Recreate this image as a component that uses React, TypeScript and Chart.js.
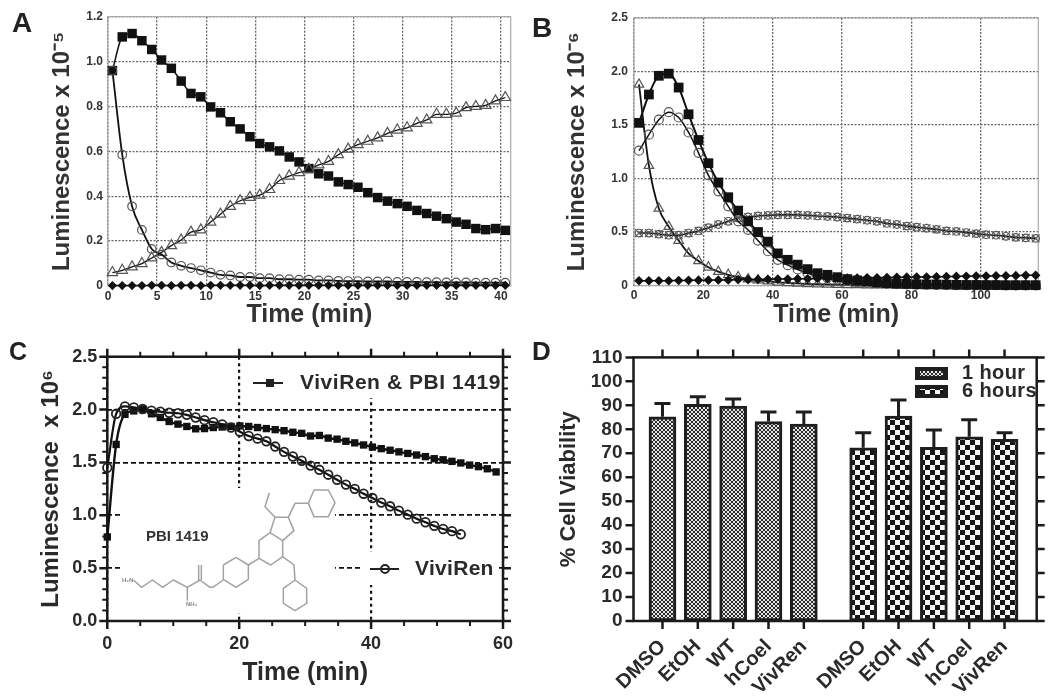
import React, { useEffect, useRef } from "react";
import { Chart, registerables } from "chart.js";

Chart.register(...registerables);

const FONT = '"Liberation Sans", Arial, sans-serif';

// ---------- Panel A ----------
const timesA = [0.45,1.45,2.45,3.45,4.45,5.45,6.45,7.45,8.45,9.45,10.45,11.45,12.45,13.45,14.45,15.45,16.45,17.45,18.45,19.45,20.45,21.45,22.45,23.45,24.45,25.45,26.45,27.45,28.45,29.45,30.45,31.45,32.45,33.45,34.45,35.45,36.45,37.45,38.45,39.45,40.45];
const squaresA = [.96,1.11,1.125,1.093,1.054,1.007,.97,.913,.858,.843,.798,.772,.732,.70,.665,.635,.62,.602,.575,.553,.523,.50,.49,.464,.452,.44,.416,.394,.378,.367,.355,.337,.323,.311,.30,.285,.275,.256,.251,.256,.248];
const trianglesA = [.06,.07,.085,.10,.125,.15,.18,.205,.24,.25,.285,.32,.355,.38,.395,.405,.43,.47,.49,.505,.52,.54,.555,.585,.61,.63,.645,.66,.68,.695,.705,.725,.74,.765,.765,.77,.795,.80,.805,.825,.84];
const circlesA = [.96,.585,.355,.25,.165,.14,.105,.09,.08,.07,.06,.05,.047,.04,.04,.035,.035,.03,.03,.028,.028,.025,.025,.023,.022,.022,.02,.02,.02,.018,.018,.018,.017,.017,.016,.016,.016,.015,.015,.015,.015];
const diamondsA = [.002,.002,.002,.002,.003,.003,.002,.003,.003,.002,.003,.003,.003,.003,.003,.002,.003,.003,.003,.003,.003,.003,.003,.003,.003,.003,.003,.003,.003,.003,.003,.003,.003,.003,.003,.003,.003,.003,.003,.003,.003];
const xTicksA = [0,5,10,15,20,25,30,35,40];
const xLabelsA = ["0","5","10","15","20","25","30","35","40"];
const yTicksA = [0,.2,.4,.6,.8,1,1.2];
const yLabelsA = ["0","0.2","0.4","0.6","0.8","1.0","1.2"];

// ---------- Panel B ----------
const timesB = [1.44,4.3,7.16,10.02,12.88,15.74,18.6,21.46,24.32,27.18,30.04,32.9,35.76,38.62,41.48,44.34,47.2,50.06,52.92,55.78,58.64,61.5,64.36,67.22,70.08,72.94,75.8,78.66,81.52,84.38,87.24,90.1,92.96,95.82,98.68,101.54,104.4,107.26,110.12,112.98,115.84];
const squaresB = [1.52,1.785,1.96,1.98,1.85,1.60,1.36,1.143,.963,.825,.70,.60,.50,.41,.30,.24,.195,.153,.115,.10,.078,.06,.047,.037,.028,.022,.018,.015,.012,.01,.01,.008,.006,.005,.005,.004,.004,.003,.003,.003,.003];
const circlesB = [1.26,1.41,1.55,1.62,1.57,1.43,1.24,1.03,.88,.74,.60,.52,.42,.32,.24,.19,.15,.115,.09,.07,.055,.04,.03,.025,.02,.015,.012,.01,.008,.007,.006,.005,.004,.004,.003,.003,.003,.002,.002,.002,.002];
const trianglesB = [1.88,1.12,.72,.55,.42,.30,.23,.17,.13,.10,.08,.06,.05,.04,.03,.025,.02,.015,.012,.01,.008,.006,.005,.004,.003,.003,.002,.002,.002,.001,.001,.001,.001,.001,.001,.001,.001,.001,.001,.001,.001];
const ringsB = [.49,.49,.48,.47,.47,.49,.51,.54,.57,.60,.63,.64,.65,.655,.66,.66,.66,.655,.65,.645,.64,.63,.62,.61,.60,.58,.57,.555,.545,.535,.525,.51,.505,.495,.485,.475,.47,.46,.45,.445,.44];
const diamondsB = [.045,.045,.045,.045,.047,.048,.05,.05,.052,.052,.055,.055,.057,.058,.06,.06,.062,.063,.065,.066,.068,.07,.07,.072,.073,.075,.076,.078,.08,.08,.082,.083,.085,.086,.088,.088,.09,.09,.092,.095,.095];
const xTicksB = [0,20,40,60,80,100];
const xLabelsB = ["0","20","40","60","80","100"];
const yTicksB = [0,.5,1,1.5,2,2.5];
const yLabelsB = ["0","0.5","1.0","1.5","2.0","2.5"];

// ---------- Panel C ----------
const timesC = [0,1.34,2.68,4.02,5.36,6.7,8.04,9.38,10.72,12.06,13.4,14.74,16.08,17.42,18.76,20.1,21.44,22.78,24.12,25.46,26.8,28.14,29.48,30.82,32.16,33.5,34.84,36.18,37.52,38.86,40.2,41.54,42.88,44.22,45.56,46.9,48.24,49.58,50.92,52.26,53.6,54.94,56.28,57.62,58.96];
const pbi1419C = [.795,1.67,1.955,1.987,2.0,1.96,1.925,1.887,1.862,1.84,1.818,1.82,1.83,1.835,1.84,1.845,1.84,1.83,1.82,1.81,1.80,1.785,1.775,1.75,1.755,1.73,1.72,1.70,1.685,1.665,1.645,1.63,1.615,1.60,1.585,1.57,1.555,1.535,1.525,1.51,1.495,1.475,1.46,1.44,1.41];
const viviRenC = [1.45,1.96,2.03,2.02,2.005,1.99,1.98,1.97,1.965,1.95,1.925,1.90,1.88,1.86,1.83,1.79,1.75,1.725,1.70,1.65,1.60,1.556,1.516,1.47,1.43,1.384,1.336,1.29,1.25,1.204,1.163,1.12,1.085,1.044,1.006,.968,.934,.90,.87,.85,.82];
const xTicksC = [0,20,40,60];
const xMinorC = [5,10,15,25,30,35,45,50,55];
const yTicksC = [0,.5,1,1.5,2,2.5];
const yMinorC = [.1,.2,.3,.4,.6,.7,.8,.9,1.1,1.2,1.3,1.4,1.6,1.7,1.8,1.9,2.1,2.2,2.3,2.4];
const yLabelsC = ["0.0","0.5","1.0","1.5","2.0","2.5"];
const legendC = ["ViviRen & PBI 1419", "ViviRen"];

// ---------- Panel D ----------
const categoriesD = ["DMSO","EtOH","WT","hCoel","VivRen","DMSO","EtOH","WT","hCoel","VivRen"];
const slotsD = [0,1,2,3,4,5.68,6.68,7.68,8.68,9.68];
const oneHourD = [85.2,90.4,89.7,83.2,82.2];
const oneHourTopD = [90.8,93.6,92.6,87.2,87.2];
const sixHoursD = [72.3,85.5,72.5,76.9,75.8];
const sixHoursTopD = [78.6,92.2,79.7,84,78.6];
const yTicksD = [0,10,20,30,40,50,60,70,80,90,100,110];
const legendD = ["1 hour", "6 hours"];

// ---------- helpers ----------
const zip = (xs: number[], ys: number[]) => ys.map((y, i) => ({ x: xs[i], y }));
const fontOf = (size: number) => ({ family: FONT, weight: "bold" as const, size });

function lineSet(xs: number[], ys: number[], style: any) {
  return {
    data: zip(xs, ys),
    clip: false,
    tension: 0.4,
    cubicInterpolationMode: "monotone",
    pointHoverRadius: 0,
    ...style,
  };
}
const filled = (pointStyle: string, pointRadius: number, lineWidth = 1.5) => ({
  pointStyle, pointRadius, borderColor: "#111", backgroundColor: "#111",
  pointBorderColor: "#111", pointBackgroundColor: "#111", pointBorderWidth: 0, borderWidth: lineWidth,
});
const hollow = (pointStyle: string, pointRadius: number, lineWidth = 1.5, stroke = "#555") => ({
  pointStyle, pointRadius, borderColor: "#111", backgroundColor: "transparent",
  pointBorderColor: stroke, pointBackgroundColor: "transparent", pointBorderWidth: 1.2, borderWidth: lineWidth,
});

function fixedTicks(values: number[]) {
  return (scale: any) => { scale.ticks = values.map((value) => ({ value })); };
}

function axis(opts: {
  min: number; max: number; ticks: number[]; labels: string[]; size: number; color: string; pad: number;
  title: string; titleSize: number; titlePad: number; thick: number; horizontal: boolean; grid?: any; rotate?: number;
}) {
  const t = opts.horizontal ? { bottom: opts.titlePad, top: 0 } : { top: opts.titlePad, bottom: 0 };
  return {
    type: "linear",
    position: opts.horizontal ? "bottom" : "left",
    offset: false,
    min: opts.min,
    max: opts.max,
    afterBuildTicks: fixedTicks(opts.ticks),
    afterFit: (scale: any) => {
      if (opts.horizontal) scale.height = opts.thick; else scale.width = opts.thick;
    },
    ticks: {
      autoSkip: false,
      padding: opts.pad,
      color: opts.color,
      font: fontOf(opts.size),
      maxRotation: opts.rotate ?? 0,
      minRotation: opts.rotate ?? 0,
      callback: (_v: any, i: number) => opts.labels[i],
    },
    grid: opts.grid ?? { display: false, drawTicks: false },
    border: opts.grid?.dash ? { display: false, dash: opts.grid.dash } : { display: false },
    title: opts.title
      ? { display: true, text: opts.title, color: opts.color, font: fontOf(opts.titleSize), padding: t }
      : { display: false },
  };
}

function drawFrame(chart: any, color: string, width: number) {
  const { ctx, chartArea: a } = chart;
  ctx.save();
  ctx.strokeStyle = color;
  ctx.lineWidth = width;
  ctx.strokeRect(a.left, a.top, a.right - a.left, a.bottom - a.top);
  ctx.restore();
}

function drawTickMarks(
  chart: any, values: number[], horizontal: boolean, length: number, width: number,
) {
  const { ctx, chartArea: a, scales } = chart;
  ctx.save();
  ctx.strokeStyle = "#1a1a1a";
  ctx.lineWidth = width;
  ctx.beginPath();
  for (const v of values) {
    if (horizontal) {
      const x = scales.x.getPixelForValue(v);
      ctx.moveTo(x, a.top); ctx.lineTo(x, a.top - length);
      ctx.moveTo(x, a.bottom); ctx.lineTo(x, a.bottom + length);
    } else {
      const y = scales.y.getPixelForValue(v);
      ctx.moveTo(a.left, y); ctx.lineTo(a.left - length, y);
      ctx.moveTo(a.right, y); ctx.lineTo(a.right + length, y);
    }
  }
  ctx.stroke();
  ctx.restore();
}

function spacedText(ctx: any, text: string, x: number, y: number, size: number, spacing: number, color = "#2a2a2a") {
  ctx.save();
  ctx.font = `bold ${size}px ${FONT}`;
  ctx.fillStyle = color;
  ctx.textBaseline = "middle";
  ctx.textAlign = "left";
  ctx.letterSpacing = `${spacing}px`;
  ctx.fillText(text, x, y);
  ctx.restore();
}

function checker(cell: number, dark: string, light: string) {
  const c = document.createElement("canvas");
  c.width = c.height = cell * 2;
  const g = c.getContext("2d")!;
  g.fillStyle = light; g.fillRect(0, 0, cell * 2, cell * 2);
  g.fillStyle = dark; g.fillRect(0, 0, cell, cell); g.fillRect(cell, cell, cell, cell);
  return g.createPattern(c, "repeat")!;
}

// The PBI 1419 structure inset, in the canvas pixels of panel C
const structure: number[][][] = [
  [[70,300],[95,322],[127,300],[158,322],[190,300],[232,322],[270,300],[300,322],[308,322],[340,300]],
  [[266,300],[266,255]], [[274,300],[274,255]], [[232,322],[232,362]],
  [[340,255],[378,232],[415,255],[415,298],[378,322],[340,298],[340,255]],
  [[415,255],[447,235],[447,182],[480,158],[518,182],[518,230],[482,255],[447,235]],
  [[480,158],[495,112],[535,112],[552,152],[518,182]],
  [[495,112],[465,80],[478,38]],
  [[535,112],[555,70],[595,70],[612,30],[655,30],[675,68],[655,110],[612,110],[595,70]],
  [[518,230],[552,255],[555,300],[590,325],[590,370],[555,392],[520,370],[520,325],[555,300]],
];

const dotted = { color: "#666", lineWidth: 1.3, drawTicks: false, dash: [2, 1.5] };

// ---------- chart configurations (the first dataset is painted last, on top) ----------
function panelA(): any {
  return {
    type: "line",
    data: { datasets: [
      lineSet(timesA, diamondsA, filled("rectRot", 4.6)),
      lineSet(timesA, circlesA, hollow("circle", 4.3, 1.8)),
      lineSet(timesA, trianglesA, hollow("triangle", 6, 1.3)),
      lineSet(timesA, squaresA, filled("rect", 6.7)),
    ] },
    options: {
      responsive: false, animation: false, events: [],
      layout: { padding: { top: 16.7, right: 14.3, left: 0, bottom: 0 } },
      plugins: { legend: { display: false }, tooltip: { enabled: false } },
      scales: {
        x: axis({ min: 0, max: 41, ticks: xTicksA, labels: xLabelsA, size: 12, color: "#333", pad: 3, title: "Time (min)", titleSize: 25, titlePad: 5, thick: 49, horizontal: true, grid: dotted }),
        y: axis({ min: 0, max: 1.2, ticks: yTicksA, labels: yLabelsA, size: 12, color: "#333", pad: 5, title: "Luminescence x 10⁻⁵", titleSize: 24, titlePad: 48, thick: 108, horizontal: false, grid: dotted }),
      },
    },
    plugins: [{ id: "frameA", beforeDatasetsDraw: (c: any) => drawFrame(c, "#aaa", 1.2) }],
  };
}

function panelB(): any {
  return {
    type: "line",
    data: { datasets: [
      lineSet(timesB, diamondsB, filled("rectRot", 4.8)),
      lineSet(timesB, squaresB, filled("rect", 6.9, 2)),
      lineSet(timesB, circlesB, hollow("circle", 4.5, 1.5)),
      lineSet(timesB, ringsB, { ...hollow("crossRot", 5.5, 0, "#555"), showLine: false }),
      lineSet(timesB, ringsB, hollow("circle", 3.8, 1.6)),
      lineSet(timesB, trianglesB, hollow("triangle", 5.5, 1.8)),
    ] },
    options: {
      responsive: false, animation: false, events: [],
      layout: { padding: { top: 18, right: 11.7, left: 0, bottom: 0 } },
      plugins: { legend: { display: false }, tooltip: { enabled: false } },
      scales: {
        x: axis({ min: 0, max: 116.6, ticks: xTicksB, labels: xLabelsB, size: 12, color: "#333", pad: 3, title: "Time (min)", titleSize: 25, titlePad: 5, thick: 49.5, horizontal: true, grid: dotted }),
        y: axis({ min: 0, max: 2.5, ticks: yTicksB, labels: yLabelsB, size: 12, color: "#333", pad: 6, title: "Luminescence x 10⁻⁶", titleSize: 24, titlePad: 38, thick: 109, horizontal: false, grid: dotted }),
      },
    },
    plugins: [{ id: "frameB", beforeDatasetsDraw: (c: any) => drawFrame(c, "#aaa", 1.2) }],
  };
}

function panelC(): any {
  return {
    type: "line",
    data: { datasets: [
      lineSet(timesC, viviRenC, { ...hollow("circle", 4.3, 2.2, "#222"), tension: 0.2, pointBorderWidth: 1.8 }),
      lineSet(timesC, pbi1419C, { ...filled("rect", 5.2, 2.4), tension: 0.2 }),
    ] },
    options: {
      responsive: false, animation: false, events: [],
      layout: { padding: { top: 21.7, right: 13.3, left: 0, bottom: 0 } },
      plugins: { legend: { display: false }, tooltip: { enabled: false } },
      scales: {
        x: axis({ min: 0, max: 60, ticks: xTicksC, labels: xTicksC.map(String), size: 18, color: "#2a2a2a", pad: 12, title: "Time (min)", titleSize: 25, titlePad: 11, thick: 78, horizontal: true, grid: { color: "#111", lineWidth: 2.2, drawTicks: false, dash: [3, 3.5] } }),
        y: axis({ min: 0, max: 2.5, ticks: yTicksC, labels: yLabelsC, size: 18, color: "#2a2a2a", pad: 10, title: "Luminescence  x 10⁶", titleSize: 24, titlePad: 37, thick: 107.3, horizontal: false, grid: { color: "#111", lineWidth: 1.8, drawTicks: false, dash: [5, 3] } }),
      },
    },
    plugins: [{
      id: "insetC",
      beforeDatasetsDraw: (c: any) => {
        const { ctx } = c;
        ctx.save();
        ctx.fillStyle = "#fff";
        ctx.fillRect(120, 153, 215, 125);
        ctx.fillRect(252, 22, 248, 41);
        ctx.fillRect(362, 217, 135, 33);
        ctx.strokeStyle = "#a2a2a2";
        ctx.lineWidth = 1.5;
        ctx.lineJoin = "round";
        for (const path of structure) {
          ctx.beginPath();
          path.forEach(([zx, zy], i) => {
            const px = 110 + zx / 3, py = 145 + zy / 3;
            if (i) ctx.lineTo(px, py); else ctx.moveTo(px, py);
          });
          ctx.stroke();
        }
        ctx.restore();
        spacedText(ctx, "PBI 1419", 146, 202, 15, 0, "#333");
        spacedText(ctx, "H₂N", 122, 245, 6, 0, "#888");
        spacedText(ctx, "NH₂", 186, 269, 6, 0, "#888");
        drawFrame(c, "#1a1a1a", 2.5);
      },
      afterDatasetsDraw: (c: any) => {
        const { ctx } = c;
        drawTickMarks(c, xTicksC, true, 8, 2.5);
        drawTickMarks(c, xMinorC, true, 5, 2);
        drawTickMarks(c, yTicksC, false, 8, 2.5);
        drawTickMarks(c, yMinorC, false, 5, 2);
        ctx.save();
        ctx.strokeStyle = "#222"; ctx.fillStyle = "#222"; ctx.lineWidth = 2;
        ctx.beginPath();
        ctx.moveTo(253, 48); ctx.lineTo(283, 48);
        ctx.moveTo(370, 234); ctx.lineTo(399, 234);
        ctx.stroke();
        ctx.fillRect(266, 44, 8, 8);
        ctx.beginPath(); ctx.arc(385, 234, 4, 0, Math.PI * 2); ctx.stroke();
        ctx.restore();
        spacedText(ctx, legendC[0], 300, 48, 21, 0.55);
        spacedText(ctx, legendC[1], 415, 234, 21, 0.3);
      },
    }],
  };
}

function panelD(): any {
  const fine = checker(2, "#2b2b2b", "#e4e4e4");
  const coarse = checker(5, "#161616", "#f6f6f6");
  const barStyle = { borderColor: "#1e1e1e", borderWidth: 3, borderSkipped: false, barThickness: 27, grouped: false };
  const errors: [number[], number[], number][] = [[oneHourD, oneHourTopD, 0], [sixHoursD, sixHoursTopD, 5]];
  return {
    type: "bar",
    data: { datasets: [
      { data: zip(slotsD.slice(0, 5), oneHourD), backgroundColor: fine, ...barStyle },
      { data: zip(slotsD.slice(5), sixHoursD), backgroundColor: coarse, ...barStyle },
    ] },
    options: {
      responsive: false, animation: false, events: [],
      layout: { padding: { top: 21.7, right: 13.3, left: 0, bottom: 0 } },
      plugins: { legend: { display: false }, tooltip: { enabled: false } },
      scales: {
        x: axis({ min: -0.82, max: 10.59, ticks: slotsD, labels: categoriesD, size: 20, color: "#2a2a2a", pad: 14, title: "", titleSize: 0, titlePad: 0, thick: 78, horizontal: true, rotate: 45 }),
        y: axis({ min: 0, max: 110, ticks: yTicksD, labels: yTicksD.map(String), size: 19, color: "#2a2a2a", pad: 11, title: "% Cell Viability", titleSize: 22, titlePad: 31, thick: 108.5, horizontal: false }),
      },
    },
    plugins: [{
      id: "extrasD",
      beforeDatasetsDraw: (c: any) => {
        const { ctx, scales } = c;
        ctx.save();
        ctx.strokeStyle = "#1e1e1e";
        ctx.lineWidth = 3;
        ctx.beginPath();
        for (const [vals, tops, off] of errors) {
          vals.forEach((v, i) => {
            const x = scales.x.getPixelForValue(slotsD[off + i]);
            const y0 = scales.y.getPixelForValue(v);
            const y1 = scales.y.getPixelForValue(tops[i]);
            ctx.moveTo(x, y0); ctx.lineTo(x, y1);
            ctx.moveTo(x - 8, y1); ctx.lineTo(x + 8, y1);
          });
        }
        ctx.stroke();
        ctx.restore();
      },
      afterDatasetsDraw: (c: any) => {
        const { ctx } = c;
        drawFrame(c, "#1a1a1a", 2.5);
        drawTickMarks(c, slotsD, true, 8, 2.5);
        drawTickMarks(c, yTicksD, false, 8, 2.5);
        ctx.save();
        [[32, fine], [50, coarse]].forEach(([y, fill]: any) => {
          ctx.fillStyle = "#1e1e1e";
          ctx.fillRect(390, y, 33, 13);
          ctx.fillStyle = fill;
          ctx.fillRect(395, y + 4, 23, 5);
        });
        ctx.restore();
        spacedText(ctx, legendD[0], 437, 38.5, 20, 0.4);
        spacedText(ctx, legendD[1], 437, 56.5, 20, 0.4);
      },
    }],
  };
}

// ---------- layout of the four panels ----------
const panels = [
  { key: "A", left: 0, top: 0, w: 525, h: 335, build: panelA, lx: 12, ly: 8, ls: 28 },
  { key: "B", left: 525, top: 0, w: 525, h: 335, build: panelB, lx: 532, ly: 13, ls: 28 },
  { key: "C", left: 0, top: 335, w: 525, h: 364, build: panelC, lx: 9, ly: 336, ls: 25 },
  { key: "D", left: 525, top: 335, w: 525, h: 364, build: panelD, lx: 532, ly: 336, ls: 26 },
];

function Panel({ p }: { p: (typeof panels)[number] }) {
  const ref = useRef<HTMLCanvasElement>(null);
  useEffect(() => {
    const chart = new Chart(ref.current!, p.build());
    return () => chart.destroy();
  }, []);
  return (
    <canvas
      ref={ref}
      width={p.w}
      height={p.h}
      style={{ position: "absolute", left: p.left, top: p.top, width: p.w, height: p.h, display: "block", filter: "blur(0.4px)" }}
    />
  );
}

export default function App() {
  return (
    <div style={{ position: "absolute", left: 0, top: 0, width: 1050, height: 699, background: "#fff", overflow: "hidden" }}>
      {panels.map((p) => <Panel key={p.key} p={p} />)}
      {panels.map((p) => (
        <span
          key={p.key + "l"}
          style={{ position: "absolute", left: p.lx, top: p.ly, font: `bold ${p.ls}px ${FONT}`, lineHeight: "30px", color: "#222" }}
        >
          {p.key}
        </span>
      ))}
    </div>
  );
}
